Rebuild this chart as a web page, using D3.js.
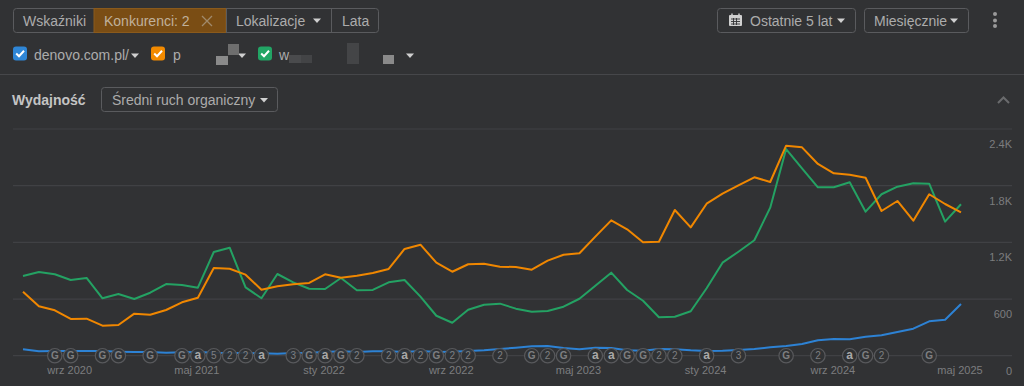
<!DOCTYPE html>
<html><head><meta charset="utf-8">
<script src="https://cdn.jsdelivr.net/npm/d3@7/dist/d3.min.js"></script>
<style>html,body{margin:0;padding:0;background:#313234;overflow:hidden}svg{display:block}text{font-family:"Liberation Sans",Arial,sans-serif}</style>
</head><body><div id="c"></div>
<script>
const months=["cze 2020","lip 2020","sie 2020","wrz 2020","paź 2020","lis 2020","gru 2020","sty 2021","lut 2021","mar 2021","kwi 2021","maj 2021","cze 2021","lip 2021","sie 2021","wrz 2021","paź 2021","lis 2021","gru 2021","sty 2022","lut 2022","mar 2022","kwi 2022","maj 2022","cze 2022","lip 2022","sie 2022","wrz 2022","paź 2022","lis 2022","gru 2022","sty 2023","lut 2023","mar 2023","kwi 2023","maj 2023","cze 2023","lip 2023","sie 2023","wrz 2023","paź 2023","lis 2023","gru 2023","sty 2024","lut 2024","mar 2024","kwi 2024","maj 2024","cze 2024","lip 2024","sie 2024","wrz 2024","paź 2024","lis 2024","gru 2024","sty 2025","lut 2025","mar 2025","kwi 2025","maj 2025"];
const greenValues=[844,886,862,801,823,608,653,600,667,759,749,720,1098,1143,724,608,865,777,709,706,823,692,696,777,801,625,423,349,487,540,551,498,466,473,519,603,741,879,696,582,407,413,470,714,985,1101,1222,1567,2188,1984,1783,1783,1836,1525,1709,1789,1825,1821,1419,1603];
const orangeValues=[678,523,481,389,392,318,325,445,434,484,565,614,928,921,858,699,735,756,770,862,826,847,876,918,1130,1175,985,889,968,974,942,939,910,1006,1069,1084,1260,1433,1338,1200,1207,1543,1359,1609,1715,1804,1889,1839,2223,2206,2030,1931,1916,1884,1532,1638,1429,1709,1606,1518];
const blueValues=[68,47,50,50,50,50,43,39,39,32,36,39,30,28,28,25,21,29,32,39,46,39,46,46,39,50,39,43,50,57,71,85,99,103,82,68,85,82,57,53,71,68,57,50,53,60,71,89,103,124,163,177,173,201,216,251,286,364,381,547];
const yTicks=[0,600,1200,1800,2400];
const yTickLabels=["0","600","1.2K","1.8K","2.4K"];
const xTickMonths=["wrz 2020","maj 2021","sty 2022","wrz 2022","maj 2023","sty 2024","wrz 2024","maj 2025"];
const markerMonths=[2,3,5,6,8,10,11,12,13,14,15,17,18,19,20,21,23,24,25,26,27,28,30,32,33,34,36,37,38,39,40,41,43,45,48,50,52,53,54,57];
const markerLabels=["G","G","G","G","G","G","a","5","2","2","a","3","G","a","G","2","2","a","2","G","2","2","2","G","2","G","a","a","G","G","2","2","a","3","G","2","a","G","2","G"];

const W=1024,H=386,BG="#313234";
const svg=d3.select("#c").append("svg").attr("width",W).attr("height",H);
svg.append("rect").attr("width",W).attr("height",H).attr("fill",BG);
const x=d3.scalePoint().domain(months).range([23,961]);
const y=d3.scaleLinear().domain([0,2400]).range([355.7,129]);

const TXT="#acacac",BR="#5a5b5e";
function text(s,px,py,o={}){return svg.append("text").attr("x",px).attr("y",py).attr("fill",o.fill||TXT).attr("font-size",o.size||14).attr("font-weight",o.weight||400).attr("text-anchor",o.anchor||"start").text(s);}
function caret(cx,cy,c="#d0d0d0"){svg.append("path").attr("d",`M${cx-4},${cy-2}L${cx+4},${cy-2}L${cx},${cy+2.5}Z`).attr("fill",c);}
function box(a,b,c,d,o={}){svg.append("rect").attr("x",a+.5).attr("y",b+.5).attr("width",c-a-1).attr("height",d-b-1).attr("rx",o.rx==null?3:o.rx).attr("fill",o.fill||"none").attr("stroke",o.stroke||BR);}

// top toolbar
box(13,8,379,33);
svg.append("rect").attr("x",94).attr("y",8.5).attr("width",132).attr("height",24).attr("fill","#7a4d14").attr("stroke","#8a5a1c");
[226,331].forEach(v=>svg.append("line").attr("x1",v+.5).attr("x2",v+.5).attr("y1",8).attr("y2",33).attr("stroke",BR));
text("Wskaźniki",23,25.5);
text("Konkurenci: 2",104,25.5,{fill:"#c0b19c"});
svg.append("path").attr("d","M202,16L212,26M212,16L202,26").attr("stroke","#a08a6c").attr("stroke-width",1.3);
text("Lokalizacje",236,25.5);caret(317,20.5);
text("Lata",342,25.5);

box(717,8,856,33);
svg.append("rect").attr("x",729).attr("y",15).attr("width",13).attr("height",11).attr("rx",1).attr("fill","#d0d0d0");
svg.append("path").attr("d","M732,13.5V16M739,13.5V16").attr("stroke","#d0d0d0").attr("stroke-width",1.5);
svg.append("path").attr("d","M731,19H740M731,21.5H740M731,24H740M733.5,18V25M736.5,18V25").attr("stroke",BG).attr("stroke-width",.9);
text("Ostatnie 5 lat",750,25.5);caret(841,20.5);
box(864,8,969,33);
text("Miesięcznie",874,25.5);caret(954,20.5);
[14,20.5,26].forEach(v=>svg.append("circle").attr("cx",995).attr("cy",v).attr("r",2).attr("fill","#9a9a9a"));

// legend row
function check(px,c){
 svg.append("rect").attr("x",px).attr("y",46.5).attr("width",14).attr("height",14).attr("rx",3).attr("fill",c);
 svg.append("path").attr("d",`M${px+3.2},53.5L${px+6},56.2L${px+11},50.8`).attr("fill","none").attr("stroke","#fff").attr("stroke-width",2);
}
check(13,"#2f86d6");text("denovo.com.pl/",34,60);caret(135,55.5);
check(151,"#f28a00");text("p",173,60);
check(258,"#22a565");text("w",279,60);
caret(242,55.5);caret(410,55.5);
const redactBlocks=[[216,56,12,9,"#8a8a8a"],[228,44,11,11,"#6e6e6e"],[289,55,12,8,"#4a4b4d"],[301,55,11,8,"#434446"],[347,43,12,21,"#444547"],[383,55,11,9,"#8a8a8a"]];
redactBlocks.forEach(r=>svg.append("rect").attr("x",r[0]).attr("y",r[1]).attr("width",r[2]).attr("height",r[3]).attr("fill",r[4]));

svg.append("line").attr("x1",0).attr("x2",W).attr("y1",74.5).attr("y2",74.5).attr("stroke","#46474a");

text("Wydajność",12,105,{weight:700,size:14,fill:"#c4c4c4"});
box(101,87,278,112);
text("Średni ruch organiczny",112,105);caret(264,100);
svg.append("path").attr("d","M998,103L1003.5,97.5L1009,103").attr("fill","none").attr("stroke","#6a6b6d").attr("stroke-width",2);

// grid
svg.append("g").selectAll("line").data(yTicks).join("line").attr("x1",13).attr("x2",1012).attr("y1",d=>y(d)).attr("y2",d=>y(d)).attr("stroke","#404144").attr("stroke-width",1.2);
svg.append("g").selectAll("text").data(yTicks).join("text").attr("x",1012).attr("y",d=>y(d)+19).attr("text-anchor","end").attr("font-size",11).attr("fill","#7c7d7f").text((d,i)=>yTickLabels[i]);
svg.append("g").selectAll("text").data(xTickMonths).join("text").attr("x",d=>x(d)-1).attr("y",374).attr("text-anchor","middle").attr("font-size",11).attr("fill","#7c7d7f").text(d=>d);

// lines
const line=d3.line().x((d,i)=>x(months[i])).y(d=>y(d));
[[blueValues,"#2d82d4"],[greenValues,"#24a263"],[orangeValues,"#f08700"]].forEach(([v,c])=>
 svg.append("path").datum(v).attr("d",line).attr("fill","none").attr("stroke",c).attr("stroke-width",2).attr("stroke-linejoin","round"));

// event markers
const isDigit=i=>/[0-9]/.test(markerLabels[i]);
const gm=svg.append("g").selectAll("g").data(markerMonths).join("g").attr("transform",d=>`translate(${x(months[d])},${y(0)})`);
gm.append("circle").attr("r",7.2).attr("fill",BG).attr("fill-opacity",.9).attr("stroke","#58595c").attr("stroke-width",1.2);
gm.append("text").attr("text-anchor","middle").attr("y",3.5).attr("font-size",(d,i)=>markerLabels[i]==="a"?12:10).attr("font-weight",(d,i)=>isDigit(i)?400:700).attr("fill",(d,i)=>markerLabels[i]==="a"?"#a8a8a8":"#7e7f81").text((d,i)=>markerLabels[i]);
</script></body></html>
